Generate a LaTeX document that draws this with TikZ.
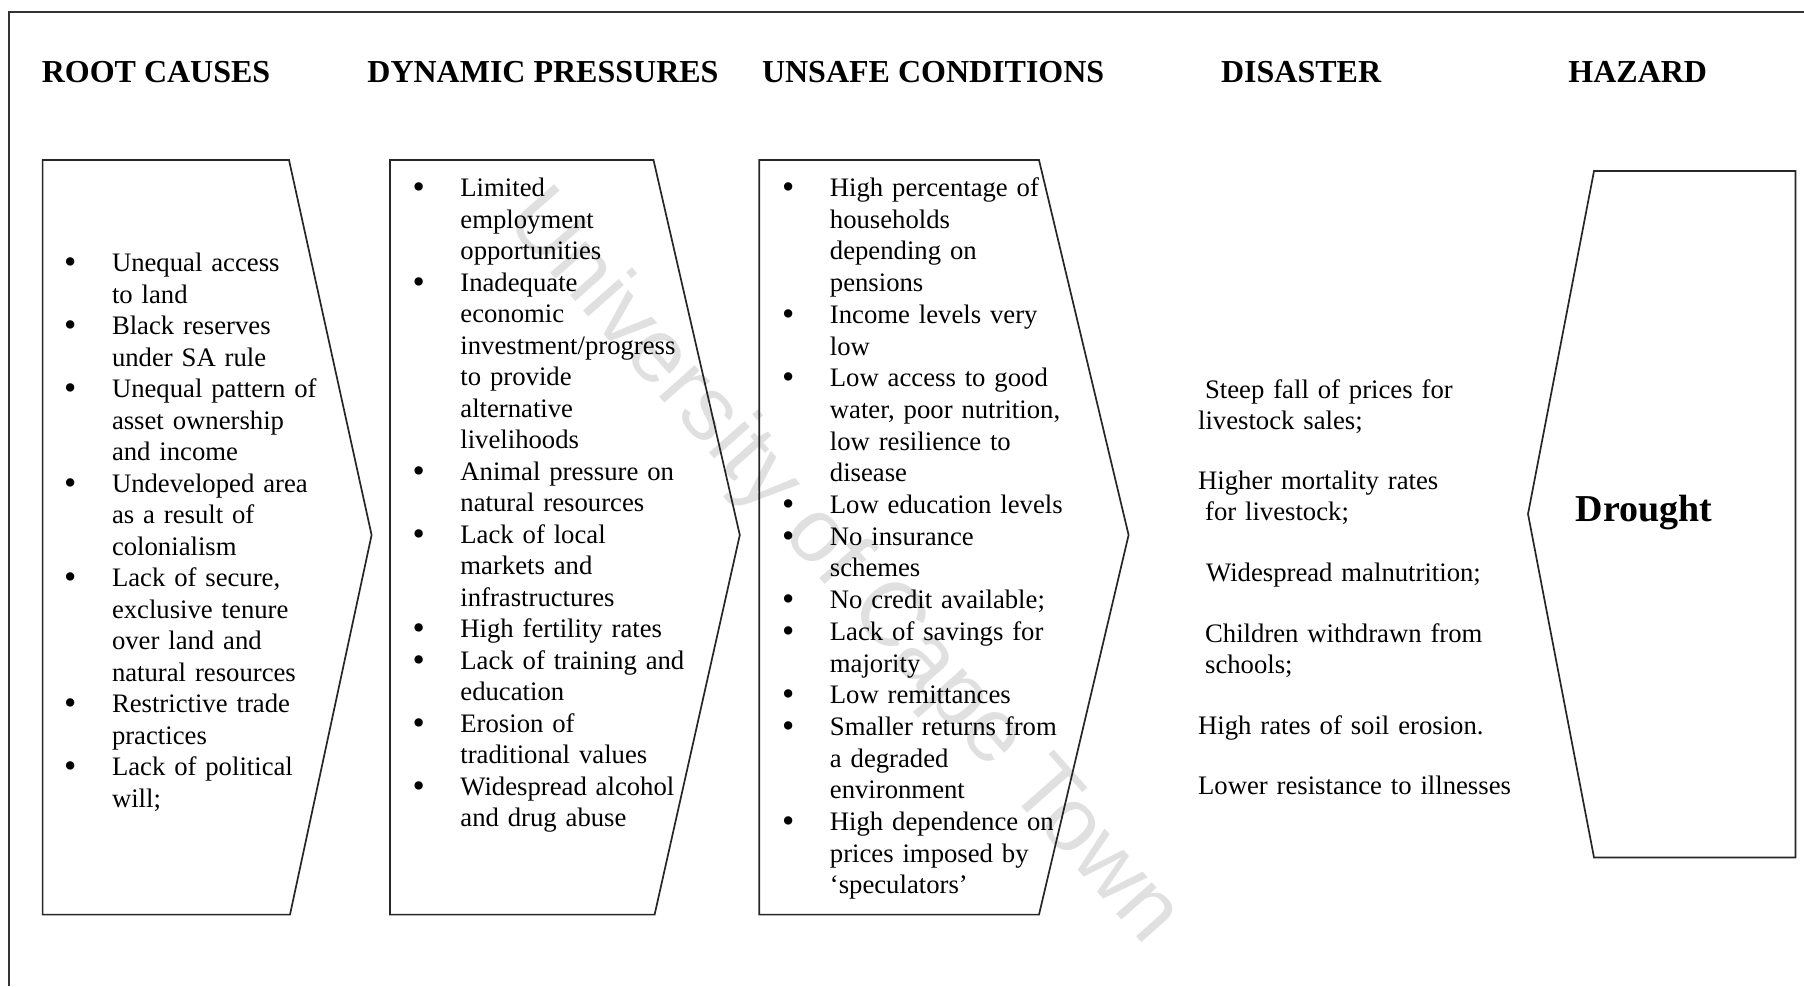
\documentclass[tikz,border=0pt]{standalone}
\usepackage{fontspec}
\setmainfont{Liberation Serif}
\newfontfamily\wmfont{Liberation Sans}
\newlength\bw \setlength\bw{23.25pt}
\newcommand{\bl}{\makebox[\bw][l]{\kern-0.7pt\raisebox{-1.1pt}{\fontsize{17.5pt}{0pt}\selectfont\textbullet}}}
\newcommand{\cl}{\hspace*{\bw}}
\newcommand{\bodyfont}{\fontsize{13.35pt}{15.75pt}\selectfont}
\newcommand{\bodyfontb}{\fontsize{13.35pt}{15.85pt}\selectfont}
\begin{document}
\begin{tikzpicture}[x=0.5pt,y=-0.5pt,
  hdr/.style={anchor=base west, inner sep=0pt, font=\fontsize{16pt}{19pt}\selectfont\bfseries},
  lst/.style={anchor=base west, inner sep=0pt, text width=175pt, align=left, font=\bodyfont},
  dis/.style={anchor=base west, inner sep=0pt, text width=200pt, align=left, font=\bodyfont},
  shp/.style={draw=black!85, line width=0.85pt, line join=miter},
  wmark/.style={text=black!12, font=\wmfont\fontsize{45pt}{52pt}\selectfont, inner sep=0pt}
]
\useasboundingbox (0,0) rectangle (1804,986);
% watermark
\node[wmark, rotate=-48.5] (wm) at (842,568) {University of Cape Town};
% frame
\draw[line width=0.8pt, draw=black!80] (1804,12) -- (9,12) -- (9,986);
% headers
\node[hdr] (h1) at (41.4,82) {ROOT CAUSES};
\node[hdr] (h2) at (367,82) {DYNAMIC PRESSURES};
\node[hdr] (h3) at (761.6,82) {UNSAFE CONDITIONS};
\node[hdr] (h4) at (1220.7,82) {DISASTER};
\node[hdr] (h5) at (1568,82) {HAZARD};
% shapes
\draw[shp] (42.6,160) -- (289,160) -- (371.6,535) -- (290,914.6) -- (42.6,914.6) -- cycle;
\draw[shp] (390,160) -- (653.5,160) -- (739.8,535) -- (654.6,914.6) -- (390,914.6) -- cycle;
\draw[shp] (759.3,160) -- (1039,160) -- (1128.6,535) -- (1039,914.6) -- (759.3,914.6) -- cycle;
\draw[shp] (1594,171) -- (1795.5,171) -- (1795.5,857.5) -- (1594,857.5) -- (1528,514) -- cycle;
% root causes
\node[lst] (rc) at (65.1,271.5) {\bl Unequal access\\\cl to land\\
\bl Black reserves\\\cl under SA rule\\
\bl Unequal pattern of\\\cl asset ownership\\\cl and income\\
\bl Undeveloped area\\\cl as a result of\\\cl colonialism\\
\bl Lack of secure,\\\cl exclusive tenure\\\cl over land and\\\cl natural resources\\
\bl Restrictive trade\\\cl practices\\
\bl Lack of political\\\cl will;};
% dynamic pressures
\node[lst] (dp) at (413.5,196.5) {\bl Limited\\\cl employment\\\cl opportunities\\
\bl Inadequate\\\cl economic\\\cl investment/progress\\\cl to provide\\\cl alternative\\\cl livelihoods\\
\bl Animal pressure on\\\cl natural resources\\
\bl Lack of local\\\cl markets and\\\cl infrastructures\\
\bl High fertility rates\\
\bl Lack of training and\\\cl education\\
\bl Erosion of\\\cl traditional values\\
\bl Widespread alcohol\\\cl and drug abuse};
% unsafe conditions
\node[lst, font=\bodyfontb] (uc) at (783,196.5) {\bl High percentage of\\\cl households\\\cl depending on\\\cl pensions\\
\bl Income levels very\\\cl low\\
\bl Low access to good\\\cl water, poor nutrition,\\\cl low resilience to\\\cl disease\\
\bl Low education levels\\
\bl No insurance\\\cl schemes\\
\bl No credit available;\\
\bl Lack of savings for\\\cl majority\\
\bl Low remittances\\
\bl Smaller returns from\\\cl a degraded\\\cl environment\\
\bl High dependence on\\\cl prices imposed by\\\cl `speculators'};
% disaster
\node[dis] (d1) at (1197.7,398) {\hspace*{3.5pt}Steep fall of prices for\\livestock sales;};
\node[dis] (d2) at (1197.7,489) {Higher mortality rates\\\hspace*{3.5pt}for livestock;};
\node[dis] (d3) at (1197.7,581) {\hspace*{4pt}Widespread malnutrition;};
\node[dis] (d4) at (1197.7,642) {\hspace*{3.5pt}Children withdrawn from\\\hspace*{3.5pt}schools;};
\node[dis] (d5) at (1197.7,734) {High rates of soil erosion.};
\node[dis] (d6) at (1197.7,794) {Lower resistance to illnesses};
% hazard
\node[anchor=base, inner sep=0pt, font=\fontsize{19pt}{22pt}\selectfont\bfseries] (hz) at (1644,521) {Drought};
\end{tikzpicture}
\end{document}
